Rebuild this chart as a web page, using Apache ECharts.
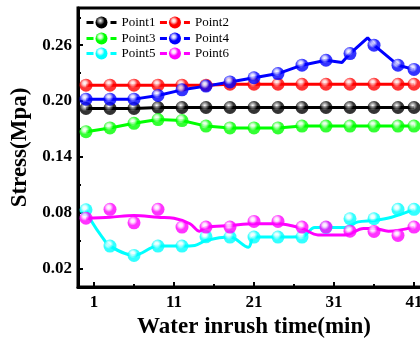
<!DOCTYPE html>
<html>
<head>
<meta charset="utf-8">
<script src="https://cdn.jsdelivr.net/npm/echarts@6/dist/echarts.min.js"></script>
<style>
  html, body { margin: 0; padding: 0; background: #fff; }
  #chart { width: 420px; height: 340px; }
</style>
</head>
<body>
<div id="chart"></div>
<script>
var names = ['Point1', 'Point2', 'Point3', 'Point4', 'Point5', 'Point6'];
var colors = ['#000000', '#ff0000', '#00ff00', '#0000ff', '#00ffff', '#ff00ff'];
var highlights = ['#9a9a9a', '#ffc8c8', '#d0ffd0', '#c8c8ff', '#e0ffff', '#ffd8ff'];

// time of each measurement (min)
var times = [0, 3, 6, 9, 12, 15, 18, 21, 24, 27, 30, 33, 36, 39, 41];

// measured stress (Mpa)
var point1 = [0.192, 0.192, 0.192, 0.193, 0.193, 0.193, 0.193, 0.193, 0.193, 0.193, 0.193, 0.193, 0.193, 0.193, 0.193];
var point2 = [0.217, 0.217, 0.217, 0.217, 0.217, 0.217, 0.218, 0.218, 0.218, 0.218, 0.218, 0.218, 0.218, 0.218, 0.218];
var point3 = [0.167, 0.171, 0.176, 0.180, 0.179, 0.173, 0.171, 0.171, 0.171, 0.173, 0.173, 0.173, 0.173, 0.173, 0.173];
var point4 = [0.202, 0.202, 0.202, 0.206, 0.212, 0.216, 0.2205, 0.225, 0.2295, 0.2385, 0.2438, 0.251, 0.260, 0.2385, 0.234];
var point5 = [0.083, 0.044, 0.034, 0.044, 0.044, 0.054, 0.0537, 0.0537, 0.0537, 0.0537, 0.064, 0.0734, 0.0734, 0.0835, 0.0835];
var point6 = [0.074, 0.0835, 0.069, 0.0835, 0.0644, 0.0644, 0.0644, 0.0705, 0.0705, 0.0644, 0.0644, 0.060, 0.0598, 0.0555, 0.0644];

// fitted curves drawn through the points ([time, stress])
var curve4 = [[0, 0.202], [3, 0.202], [6, 0.202], [9, 0.206], [12, 0.212], [15, 0.216], [18, 0.2205], [21, 0.225],
  [24, 0.2295], [27, 0.2385], [30, 0.2438], [32, 0.2414], [33, 0.251], [35.2, 0.268], [36, 0.260], [39, 0.2385], [41, 0.234]];
var curve5 = [[0, 0.083], [0.75, 0.070], [2, 0.054], [3, 0.044], [6, 0.034], [9, 0.044], [12, 0.044], [13.6, 0.0447],
  [15, 0.050], [18, 0.0537], [20.3, 0.0428], [21, 0.0537], [24, 0.0537], [27, 0.054], [28.6, 0.064], [32.4, 0.064],
  [34, 0.070], [36, 0.0716], [38.2, 0.075], [41, 0.0835]];
var curve6 = [[0, 0.074], [3, 0.075], [6, 0.077], [9, 0.075], [11, 0.074], [13, 0.068], [14.2, 0.060], [15, 0.064],
  [18, 0.066], [21, 0.068], [24, 0.068], [27, 0.063], [29, 0.056], [32.4, 0.056], [34.7, 0.063], [36, 0.063],
  [37.8, 0.060], [41, 0.0644]];

var xMajor = [1, 11, 21, 31, 41];
var xMinor = [6, 16, 26, 36];
var yMajor = [0.02, 0.08, 0.14, 0.20, 0.26];
var yMinor = [0.05, 0.11, 0.17, 0.23, 0.29];

var serif = '"Liberation Serif", "Times New Roman", serif';

function pairs(values) {
  return values.map(function (v, i) { return [times[i], v]; });
}

function ball(i) {
  return new echarts.graphic.RadialGradient(0.4, 0.35, 0.6, [
    { offset: 0, color: '#ffffff' },
    { offset: 0.25, color: highlights[i] },
    { offset: 0.6, color: colors[i] },
    { offset: 1, color: colors[i] }
  ]);
}

var markers = [point1, point2, point3, point4, point5, point6].map(pairs);
var curves = [markers[0], markers[1], markers[2], curve4, curve5, curve6];

var chart = echarts.init(document.getElementById('chart'));

var series = [];
curves.forEach(function (c, i) {
  series.push({
    name: names[i],
    type: 'line',
    data: c,
    symbol: 'none',
    smooth: i >= 4 ? 0.35 : false,
    lineStyle: { color: colors[i], width: 3 },
    itemStyle: { color: colors[i] },
    z: 2,
    animation: false
  });
});
markers.forEach(function (m, i) {
  series.push({
    name: names[i],
    type: 'scatter',
    data: m,
    symbol: 'circle',
    symbolSize: 13,
    itemStyle: { color: ball(i) },
    z: 3 + i,
    animation: false
  });
});

// one legend per row, two entries each
function legendRow(a, b, top) {
  return {
    left: 85,
    top: top,
    padding: 0,
    itemWidth: 30,
    itemHeight: 15,
    itemGap: 3,
    selectedMode: false,
    lineStyle: { width: 3, type: [7, 17] },
    textStyle: { fontFamily: serif, fontSize: 13, color: '#000' },
    data: [a, b].map(function (i) {
      return { name: names[i], itemStyle: { color: ball(i) } };
    })
  };
}

var option = {
  backgroundColor: '#fff',
  animation: false,
  grid: {
    left: 78, top: 8, width: 352, height: 279,
    outerBoundsMode: 'none',
    containLabel: false,
    show: true, borderColor: '#000', borderWidth: 3
  },
  legend: [legendRow(0, 1, 16), legendRow(2, 3, 32), legendRow(4, 5, 47)],
  xAxis: [{
    type: 'value',
    min: -1,
    max: 43,
    name: 'Water inrush time(min)',
    nameLocation: 'middle',
    nameGap: 24,
    nameTextStyle: { fontFamily: serif, fontSize: 23, fontWeight: 'bold', color: '#000' },
    axisLine: { show: true, onZero: false, lineStyle: { color: '#000', width: 3 } },
    axisTick: { show: true, inside: true, length: 5, lineStyle: { width: 2, color: '#000' }, customValues: xMajor },
    axisLabel: { margin: 7, fontFamily: serif, fontSize: 17, fontWeight: 'bold', color: '#000', customValues: xMajor },
    splitLine: { show: false }
  }, {
    type: 'value',
    min: -1,
    max: 43,
    position: 'bottom',
    axisLine: { show: false, onZero: false },
    axisTick: { show: true, inside: true, length: 3, lineStyle: { width: 2, color: '#000' }, customValues: xMinor },
    axisLabel: { show: false },
    splitLine: { show: false }
  }],
  yAxis: [{
    type: 'value',
    min: 0,
    max: 0.30,
    name: 'Stress(Mpa)',
    nameLocation: 'middle',
    nameGap: 43,
    nameTextStyle: { fontFamily: serif, fontSize: 23, fontWeight: 'bold', color: '#000' },
    axisLine: { show: true, onZero: false, lineStyle: { color: '#000', width: 3 } },
    axisTick: { show: true, inside: true, length: 5, lineStyle: { width: 2, color: '#000' }, customValues: yMajor },
    axisLabel: {
      margin: 6, fontFamily: serif, fontSize: 17, fontWeight: 'bold', color: '#000', customValues: yMajor,
      formatter: function (v) { return v.toFixed(2); }
    },
    splitLine: { show: false }
  }, {
    type: 'value',
    min: 0,
    max: 0.30,
    position: 'left',
    axisLine: { show: false, onZero: false },
    axisTick: { show: true, inside: true, length: 3, lineStyle: { width: 2, color: '#000' }, customValues: yMinor },
    axisLabel: { show: false },
    splitLine: { show: false }
  }],
  series: series
};

chart.setOption(option);
</script>
</body>
</html>
